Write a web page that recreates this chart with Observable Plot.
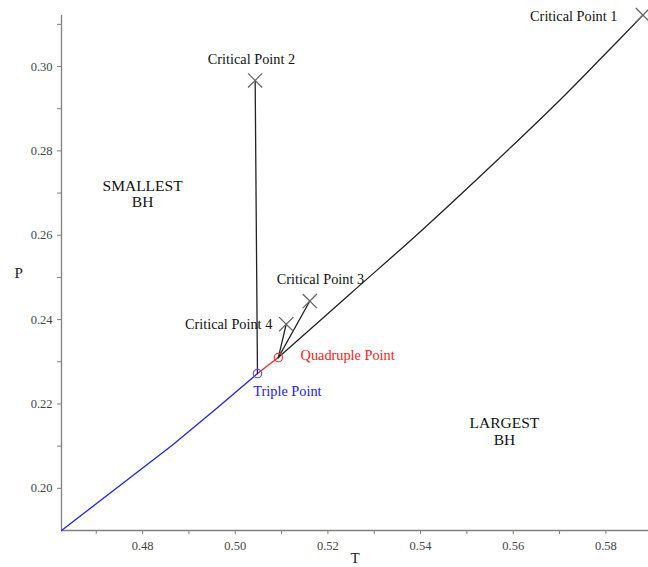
<!DOCTYPE html>
<html>
<head>
<meta charset="utf-8">
<script src="https://cdn.jsdelivr.net/npm/d3@7"></script>
<script src="https://cdn.jsdelivr.net/npm/@observablehq/plot@0.6"></script>
<style>
  body { margin: 0; background: #fff; }
  #chart svg { display: block; }
</style>
</head>
<body>
<div id="chart"></div>
<script>
// Phase boundaries (T, P)
const blueT = [0.4625, 0.4864, 0.4957, 0.5048];
const blueP = [0.1900, 0.2102, 0.2187, 0.2272];
const redT = [0.5048, 0.5093];
const redP = [0.2272, 0.2310];
const cp2LineT = [0.5048, 0.5043];
const cp2LineP = [0.2272, 0.2967];
const cp3LineT = [0.5093, 0.5161];
const cp3LineP = [0.2310, 0.2444];
const cp4LineT = [0.5093, 0.5110];
const cp4LineP = [0.2310, 0.2389];
const cp1LineT = [0.5093, 0.5249, 0.5400, 0.5551, 0.5702, 0.5789, 0.5880];
const cp1LineP = [0.2310, 0.2462, 0.2609, 0.2763, 0.2922, 0.3019, 0.3122];

// Special points
const criticalNames = ["Critical Point 1", "Critical Point 2", "Critical Point 3", "Critical Point 4"];
const criticalT = [0.5880, 0.5043, 0.5161, 0.5110];
const criticalP = [0.3122, 0.2967, 0.2444, 0.2389];
const tripleT = 0.5048, tripleP = 0.2272;
const quadT = 0.5093, quadP = 0.2310;

// Annotation anchors (T, P)
const labelText = ["Critical Point 1", "Critical Point 2", "Critical Point 3", "Critical Point 4"];
const labelT = [0.5825, 0.5035, 0.5184, 0.5080];
const labelP = [0.3118, 0.3017, 0.2495, 0.2389];
const labelAnchor = ["end", "middle", "middle", "end"];
const regionText = ["SMALLEST\nBH", "LARGEST\nBH"];
const regionT = [0.4800, 0.5581];
const regionP = [0.2699, 0.2135];

// Ticks
const xMajor = [0.48, 0.50, 0.52, 0.54, 0.56, 0.58];
const xMinor = [0.47, 0.49, 0.51, 0.53, 0.55, 0.57];
const yMajor = [0.20, 0.22, 0.24, 0.26, 0.28, 0.30];
const yMinor = [0.21, 0.23, 0.25, 0.27, 0.29, 0.31];

const zip = (T, P) => T.map((t, i) => ({T: t, P: P[i]}));
const font = "'Liberation Serif', 'Times New Roman', serif";
const axisColor = "#808080";
const labelSize = 14.3;

const chart = Plot.plot({
  width: 648,
  height: 567,
  marginLeft: 61,
  marginRight: 0,
  marginTop: 15,
  marginBottom: 37,
  style: {fontFamily: font, background: "#fff"},
  x: {domain: [0.4625, 0.5892]},
  y: {domain: [0.19, 0.3121]},
  marks: [
    // axes lines
    Plot.ruleX([0.4625], {stroke: axisColor, strokeWidth: 1.3}),
    Plot.ruleY([0.19], {stroke: axisColor, strokeWidth: 1.3}),
    Plot.axisX({ticks: xMajor, tickSize: 4, tickPadding: 7, tickFormat: d3.format(".2f"), stroke: axisColor, fill: "#444", fontSize: 12.5, label: null}),
    Plot.axisX({ticks: xMinor, tickSize: 4, tickFormat: () => "", stroke: axisColor, label: null}),
    Plot.axisY({ticks: yMajor, tickSize: 4, tickPadding: 5, tickFormat: d3.format(".2f"), stroke: axisColor, fill: "#444", fontSize: 12.5, label: null}),
    Plot.axisY({ticks: yMinor, tickSize: 4, tickFormat: () => "", stroke: axisColor, label: null}),
    Plot.text(["T"], {frameAnchor: "bottom", dy: 32, fontSize: 15, fill: "#222"}),
    Plot.text(["P"], {frameAnchor: "left", dx: -47, fontSize: 15, fill: "#222"}),

    // boundaries
    Plot.line(zip(blueT, blueP), {x: "T", y: "P", stroke: "#2020ff", strokeWidth: 1.3}),
    Plot.line(zip(redT, redP), {x: "T", y: "P", stroke: "#ff2020", strokeWidth: 1.3}),
    Plot.line(zip(cp2LineT, cp2LineP), {x: "T", y: "P", stroke: "#222", strokeWidth: 1.3}),
    Plot.line(zip(cp3LineT, cp3LineP), {x: "T", y: "P", stroke: "#222", strokeWidth: 1.3}),
    Plot.line(zip(cp4LineT, cp4LineP), {x: "T", y: "P", stroke: "#222", strokeWidth: 1.3}),
    Plot.line(zip(cp1LineT, cp1LineP), {x: "T", y: "P", stroke: "#222", strokeWidth: 1.3, curve: "catmull-rom"}),

    // points
    Plot.dot(criticalNames.map((n, i) => ({n, T: criticalT[i], P: criticalP[i]})),
      {x: "T", y: "P", symbol: "times", r: 6.5, stroke: "#666", strokeWidth: 1.3}),
    Plot.dot([{T: tripleT, P: tripleP}], {x: "T", y: "P", r: 4.2, stroke: "#5050ff", strokeWidth: 1.1, fill: "none"}),
    Plot.dot([{T: quadT, P: quadP}], {x: "T", y: "P", r: 4.2, stroke: "#ff3030", strokeWidth: 1.1, fill: "none"}),

    // labels
    Plot.text(labelText.map((s, i) => ({s, T: labelT[i], P: labelP[i], a: labelAnchor[i]})).filter(d => d.a === "end"),
      {x: "T", y: "P", text: "s", textAnchor: "end", fontSize: labelSize, fill: "#111"}),
    Plot.text(labelText.map((s, i) => ({s, T: labelT[i], P: labelP[i], a: labelAnchor[i]})).filter(d => d.a === "middle"),
      {x: "T", y: "P", text: "s", textAnchor: "middle", fontSize: labelSize, fill: "#111"}),
    Plot.text([{s: "Quadruple Point", T: 0.5141, P: 0.2315}], {x: "T", y: "P", text: "s", textAnchor: "start", fontSize: labelSize, fill: "#ff2020"}),
    Plot.text([{s: "Triple Point", T: 0.5039, P: 0.2230}], {x: "T", y: "P", text: "s", textAnchor: "start", fontSize: labelSize, fill: "#2020ff"}),
    Plot.text(regionText.map((s, i) => ({s, T: regionT[i], P: regionP[i]})),
      {x: "T", y: "P", text: "s", textAnchor: "middle", fontSize: 15.5, lineHeight: 1.05, fill: "#111"})
  ]
});
document.getElementById("chart").appendChild(chart);
</script>
</body>
</html>
